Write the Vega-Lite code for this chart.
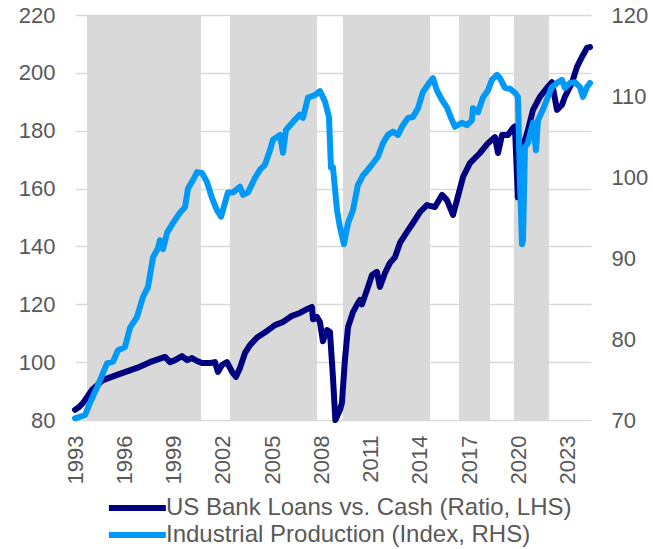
{
  "$schema": "https://vega.github.io/schema/vega-lite/v6.json",
  "width": 516,
  "height": 405,
  "autosize": "none",
  "padding": {"left": 75, "top": 15, "right": 62, "bottom": 129},
  "background": "white",
  "config": {
    "view": {"stroke": null},
    "font": "Liberation Sans",
    "axis": {"labelFont": "Liberation Sans", "labelFontSize": 22, "labelColor": "#595959", "title": null, "domain": false, "ticks": false}
  },
  "datasets": {
    "bands": [
      {"start": 1993.73, "end": 2000.67},
      {"start": 2002.43, "end": 2007.73},
      {"start": 2009.31, "end": 2014.61},
      {"start": 2016.37, "end": 2018.26},
      {"start": 2019.72, "end": 2021.85}
    ],
    "loans": [
      {"s": "US Bank Loans vs. Cash (Ratio, LHS)", "t": 1993.00, "v": 83.5},
      {"s": "US Bank Loans vs. Cash (Ratio, LHS)", "t": 1993.25, "v": 84.5},
      {"s": "US Bank Loans vs. Cash (Ratio, LHS)", "t": 1993.49, "v": 85.9},
      {"s": "US Bank Loans vs. Cash (Ratio, LHS)", "t": 1994.03, "v": 90.4},
      {"s": "US Bank Loans vs. Cash (Ratio, LHS)", "t": 1994.70, "v": 93.8},
      {"s": "US Bank Loans vs. Cash (Ratio, LHS)", "t": 1995.56, "v": 95.6},
      {"s": "US Bank Loans vs. Cash (Ratio, LHS)", "t": 1996.77, "v": 98.0},
      {"s": "US Bank Loans vs. Cash (Ratio, LHS)", "t": 1997.56, "v": 100.0},
      {"s": "US Bank Loans vs. Cash (Ratio, LHS)", "t": 1998.48, "v": 101.8},
      {"s": "US Bank Loans vs. Cash (Ratio, LHS)", "t": 1998.78, "v": 100.0},
      {"s": "US Bank Loans vs. Cash (Ratio, LHS)", "t": 1999.09, "v": 100.7},
      {"s": "US Bank Loans vs. Cash (Ratio, LHS)", "t": 1999.51, "v": 102.1},
      {"s": "US Bank Loans vs. Cash (Ratio, LHS)", "t": 1999.82, "v": 100.7},
      {"s": "US Bank Loans vs. Cash (Ratio, LHS)", "t": 2000.12, "v": 101.4},
      {"s": "US Bank Loans vs. Cash (Ratio, LHS)", "t": 2000.43, "v": 100.4},
      {"s": "US Bank Loans vs. Cash (Ratio, LHS)", "t": 2000.73, "v": 99.7},
      {"s": "US Bank Loans vs. Cash (Ratio, LHS)", "t": 2001.22, "v": 99.7},
      {"s": "US Bank Loans vs. Cash (Ratio, LHS)", "t": 2001.52, "v": 100.0},
      {"s": "US Bank Loans vs. Cash (Ratio, LHS)", "t": 2001.70, "v": 96.6},
      {"s": "US Bank Loans vs. Cash (Ratio, LHS)", "t": 2001.95, "v": 99.0},
      {"s": "US Bank Loans vs. Cash (Ratio, LHS)", "t": 2002.25, "v": 100.0},
      {"s": "US Bank Loans vs. Cash (Ratio, LHS)", "t": 2002.56, "v": 96.6},
      {"s": "US Bank Loans vs. Cash (Ratio, LHS)", "t": 2002.80, "v": 94.9},
      {"s": "US Bank Loans vs. Cash (Ratio, LHS)", "t": 2003.04, "v": 98.0},
      {"s": "US Bank Loans vs. Cash (Ratio, LHS)", "t": 2003.35, "v": 103.2},
      {"s": "US Bank Loans vs. Cash (Ratio, LHS)", "t": 2003.65, "v": 105.9},
      {"s": "US Bank Loans vs. Cash (Ratio, LHS)", "t": 2004.08, "v": 108.5},
      {"s": "US Bank Loans vs. Cash (Ratio, LHS)", "t": 2004.69, "v": 110.8},
      {"s": "US Bank Loans vs. Cash (Ratio, LHS)", "t": 2005.17, "v": 112.8},
      {"s": "US Bank Loans vs. Cash (Ratio, LHS)", "t": 2005.66, "v": 113.9},
      {"s": "US Bank Loans vs. Cash (Ratio, LHS)", "t": 2006.21, "v": 116.0},
      {"s": "US Bank Loans vs. Cash (Ratio, LHS)", "t": 2006.69, "v": 117.0},
      {"s": "US Bank Loans vs. Cash (Ratio, LHS)", "t": 2007.18, "v": 118.5},
      {"s": "US Bank Loans vs. Cash (Ratio, LHS)", "t": 2007.42, "v": 119.1},
      {"s": "US Bank Loans vs. Cash (Ratio, LHS)", "t": 2007.49, "v": 114.8},
      {"s": "US Bank Loans vs. Cash (Ratio, LHS)", "t": 2007.73, "v": 115.6},
      {"s": "US Bank Loans vs. Cash (Ratio, LHS)", "t": 2007.91, "v": 113.9},
      {"s": "US Bank Loans vs. Cash (Ratio, LHS)", "t": 2008.09, "v": 107.2},
      {"s": "US Bank Loans vs. Cash (Ratio, LHS)", "t": 2008.34, "v": 111.1},
      {"s": "US Bank Loans vs. Cash (Ratio, LHS)", "t": 2008.52, "v": 110.4},
      {"s": "US Bank Loans vs. Cash (Ratio, LHS)", "t": 2008.70, "v": 95.0},
      {"s": "US Bank Loans vs. Cash (Ratio, LHS)", "t": 2008.85, "v": 80.0},
      {"s": "US Bank Loans vs. Cash (Ratio, LHS)", "t": 2009.13, "v": 83.5},
      {"s": "US Bank Loans vs. Cash (Ratio, LHS)", "t": 2009.25, "v": 86.0},
      {"s": "US Bank Loans vs. Cash (Ratio, LHS)", "t": 2009.43, "v": 100.7},
      {"s": "US Bank Loans vs. Cash (Ratio, LHS)", "t": 2009.62, "v": 112.1},
      {"s": "US Bank Loans vs. Cash (Ratio, LHS)", "t": 2009.92, "v": 117.3},
      {"s": "US Bank Loans vs. Cash (Ratio, LHS)", "t": 2010.22, "v": 120.4},
      {"s": "US Bank Loans vs. Cash (Ratio, LHS)", "t": 2010.35, "v": 121.5},
      {"s": "US Bank Loans vs. Cash (Ratio, LHS)", "t": 2010.47, "v": 120.0},
      {"s": "US Bank Loans vs. Cash (Ratio, LHS)", "t": 2010.77, "v": 124.9},
      {"s": "US Bank Loans vs. Cash (Ratio, LHS)", "t": 2011.08, "v": 130.1},
      {"s": "US Bank Loans vs. Cash (Ratio, LHS)", "t": 2011.38, "v": 131.2},
      {"s": "US Bank Loans vs. Cash (Ratio, LHS)", "t": 2011.56, "v": 126.0},
      {"s": "US Bank Loans vs. Cash (Ratio, LHS)", "t": 2011.87, "v": 130.8},
      {"s": "US Bank Loans vs. Cash (Ratio, LHS)", "t": 2012.17, "v": 134.3},
      {"s": "US Bank Loans vs. Cash (Ratio, LHS)", "t": 2012.48, "v": 136.3},
      {"s": "US Bank Loans vs. Cash (Ratio, LHS)", "t": 2012.78, "v": 141.2},
      {"s": "US Bank Loans vs. Cash (Ratio, LHS)", "t": 2013.21, "v": 145.0},
      {"s": "US Bank Loans vs. Cash (Ratio, LHS)", "t": 2013.57, "v": 148.1},
      {"s": "US Bank Loans vs. Cash (Ratio, LHS)", "t": 2014.00, "v": 151.9},
      {"s": "US Bank Loans vs. Cash (Ratio, LHS)", "t": 2014.42, "v": 154.3},
      {"s": "US Bank Loans vs. Cash (Ratio, LHS)", "t": 2014.91, "v": 153.6},
      {"s": "US Bank Loans vs. Cash (Ratio, LHS)", "t": 2015.34, "v": 157.8},
      {"s": "US Bank Loans vs. Cash (Ratio, LHS)", "t": 2015.64, "v": 156.0},
      {"s": "US Bank Loans vs. Cash (Ratio, LHS)", "t": 2016.01, "v": 150.9},
      {"s": "US Bank Loans vs. Cash (Ratio, LHS)", "t": 2016.25, "v": 156.0},
      {"s": "US Bank Loans vs. Cash (Ratio, LHS)", "t": 2016.62, "v": 164.0},
      {"s": "US Bank Loans vs. Cash (Ratio, LHS)", "t": 2017.04, "v": 168.8},
      {"s": "US Bank Loans vs. Cash (Ratio, LHS)", "t": 2017.65, "v": 172.3},
      {"s": "US Bank Loans vs. Cash (Ratio, LHS)", "t": 2018.14, "v": 175.7},
      {"s": "US Bank Loans vs. Cash (Ratio, LHS)", "t": 2018.56, "v": 177.8},
      {"s": "US Bank Loans vs. Cash (Ratio, LHS)", "t": 2018.75, "v": 172.3},
      {"s": "US Bank Loans vs. Cash (Ratio, LHS)", "t": 2018.99, "v": 178.5},
      {"s": "US Bank Loans vs. Cash (Ratio, LHS)", "t": 2019.35, "v": 178.5},
      {"s": "US Bank Loans vs. Cash (Ratio, LHS)", "t": 2019.66, "v": 180.9},
      {"s": "US Bank Loans vs. Cash (Ratio, LHS)", "t": 2019.78, "v": 181.5},
      {"s": "US Bank Loans vs. Cash (Ratio, LHS)", "t": 2019.96, "v": 157.0},
      {"s": "US Bank Loans vs. Cash (Ratio, LHS)", "t": 2020.08, "v": 168.0},
      {"s": "US Bank Loans vs. Cash (Ratio, LHS)", "t": 2020.27, "v": 174.4},
      {"s": "US Bank Loans vs. Cash (Ratio, LHS)", "t": 2020.57, "v": 180.2},
      {"s": "US Bank Loans vs. Cash (Ratio, LHS)", "t": 2020.88, "v": 187.2},
      {"s": "US Bank Loans vs. Cash (Ratio, LHS)", "t": 2021.30, "v": 191.7},
      {"s": "US Bank Loans vs. Cash (Ratio, LHS)", "t": 2021.73, "v": 194.8},
      {"s": "US Bank Loans vs. Cash (Ratio, LHS)", "t": 2022.03, "v": 196.8},
      {"s": "US Bank Loans vs. Cash (Ratio, LHS)", "t": 2022.34, "v": 187.2},
      {"s": "US Bank Loans vs. Cash (Ratio, LHS)", "t": 2022.64, "v": 188.9},
      {"s": "US Bank Loans vs. Cash (Ratio, LHS)", "t": 2022.82, "v": 191.7},
      {"s": "US Bank Loans vs. Cash (Ratio, LHS)", "t": 2023.25, "v": 196.5},
      {"s": "US Bank Loans vs. Cash (Ratio, LHS)", "t": 2023.55, "v": 202.0},
      {"s": "US Bank Loans vs. Cash (Ratio, LHS)", "t": 2023.86, "v": 205.5},
      {"s": "US Bank Loans vs. Cash (Ratio, LHS)", "t": 2024.16, "v": 208.6},
      {"s": "US Bank Loans vs. Cash (Ratio, LHS)", "t": 2024.35, "v": 208.9}
    ],
    "ip": [
      {"s": "Industrial Production (Index, RHS)", "t": 1993.00, "v": 70.2},
      {"s": "Industrial Production (Index, RHS)", "t": 1993.61, "v": 70.6},
      {"s": "Industrial Production (Index, RHS)", "t": 1993.91, "v": 72.1},
      {"s": "Industrial Production (Index, RHS)", "t": 1994.34, "v": 74.0},
      {"s": "Industrial Production (Index, RHS)", "t": 1994.70, "v": 75.8},
      {"s": "Industrial Production (Index, RHS)", "t": 1994.95, "v": 77.0},
      {"s": "Industrial Production (Index, RHS)", "t": 1995.31, "v": 77.2},
      {"s": "Industrial Production (Index, RHS)", "t": 1995.62, "v": 78.6},
      {"s": "Industrial Production (Index, RHS)", "t": 1996.04, "v": 79.0},
      {"s": "Industrial Production (Index, RHS)", "t": 1996.35, "v": 81.4},
      {"s": "Industrial Production (Index, RHS)", "t": 1996.77, "v": 82.7},
      {"s": "Industrial Production (Index, RHS)", "t": 1997.14, "v": 85.2},
      {"s": "Industrial Production (Index, RHS)", "t": 1997.44, "v": 86.4},
      {"s": "Industrial Production (Index, RHS)", "t": 1997.75, "v": 90.1},
      {"s": "Industrial Production (Index, RHS)", "t": 1998.05, "v": 91.2},
      {"s": "Industrial Production (Index, RHS)", "t": 1998.17, "v": 92.2},
      {"s": "Industrial Production (Index, RHS)", "t": 1998.36, "v": 91.1},
      {"s": "Industrial Production (Index, RHS)", "t": 1998.60, "v": 93.1},
      {"s": "Industrial Production (Index, RHS)", "t": 1998.96, "v": 94.3},
      {"s": "Industrial Production (Index, RHS)", "t": 1999.39, "v": 95.6},
      {"s": "Industrial Production (Index, RHS)", "t": 1999.70, "v": 96.3},
      {"s": "Industrial Production (Index, RHS)", "t": 1999.88, "v": 98.6},
      {"s": "Industrial Production (Index, RHS)", "t": 2000.18, "v": 99.6},
      {"s": "Industrial Production (Index, RHS)", "t": 2000.43, "v": 100.6},
      {"s": "Industrial Production (Index, RHS)", "t": 2000.73, "v": 100.5},
      {"s": "Industrial Production (Index, RHS)", "t": 2001.03, "v": 99.4},
      {"s": "Industrial Production (Index, RHS)", "t": 2001.34, "v": 97.4},
      {"s": "Industrial Production (Index, RHS)", "t": 2001.64, "v": 95.9},
      {"s": "Industrial Production (Index, RHS)", "t": 2001.89, "v": 95.1},
      {"s": "Industrial Production (Index, RHS)", "t": 2002.13, "v": 96.8},
      {"s": "Industrial Production (Index, RHS)", "t": 2002.31, "v": 98.1},
      {"s": "Industrial Production (Index, RHS)", "t": 2002.62, "v": 98.1},
      {"s": "Industrial Production (Index, RHS)", "t": 2003.04, "v": 98.8},
      {"s": "Industrial Production (Index, RHS)", "t": 2003.23, "v": 97.8},
      {"s": "Industrial Production (Index, RHS)", "t": 2003.53, "v": 98.1},
      {"s": "Industrial Production (Index, RHS)", "t": 2003.96, "v": 99.9},
      {"s": "Industrial Production (Index, RHS)", "t": 2004.26, "v": 100.9},
      {"s": "Industrial Production (Index, RHS)", "t": 2004.56, "v": 101.5},
      {"s": "Industrial Production (Index, RHS)", "t": 2004.87, "v": 103.3},
      {"s": "Industrial Production (Index, RHS)", "t": 2005.05, "v": 104.6},
      {"s": "Industrial Production (Index, RHS)", "t": 2005.48, "v": 105.2},
      {"s": "Industrial Production (Index, RHS)", "t": 2005.66, "v": 103.0},
      {"s": "Industrial Production (Index, RHS)", "t": 2005.84, "v": 105.8},
      {"s": "Industrial Production (Index, RHS)", "t": 2006.27, "v": 106.8},
      {"s": "Industrial Production (Index, RHS)", "t": 2006.69, "v": 107.7},
      {"s": "Industrial Production (Index, RHS)", "t": 2006.88, "v": 107.3},
      {"s": "Industrial Production (Index, RHS)", "t": 2007.18, "v": 109.8},
      {"s": "Industrial Production (Index, RHS)", "t": 2007.61, "v": 110.1},
      {"s": "Industrial Production (Index, RHS)", "t": 2007.91, "v": 110.6},
      {"s": "Industrial Production (Index, RHS)", "t": 2008.22, "v": 109.3},
      {"s": "Industrial Production (Index, RHS)", "t": 2008.46, "v": 107.4},
      {"s": "Industrial Production (Index, RHS)", "t": 2008.58, "v": 101.2},
      {"s": "Industrial Production (Index, RHS)", "t": 2008.70, "v": 101.2},
      {"s": "Industrial Production (Index, RHS)", "t": 2008.95, "v": 95.9},
      {"s": "Industrial Production (Index, RHS)", "t": 2009.13, "v": 93.8},
      {"s": "Industrial Production (Index, RHS)", "t": 2009.37, "v": 91.7},
      {"s": "Industrial Production (Index, RHS)", "t": 2009.62, "v": 94.3},
      {"s": "Industrial Production (Index, RHS)", "t": 2009.92, "v": 95.9},
      {"s": "Industrial Production (Index, RHS)", "t": 2010.22, "v": 99.0},
      {"s": "Industrial Production (Index, RHS)", "t": 2010.53, "v": 100.2},
      {"s": "Industrial Production (Index, RHS)", "t": 2010.83, "v": 100.9},
      {"s": "Industrial Production (Index, RHS)", "t": 2011.14, "v": 101.7},
      {"s": "Industrial Production (Index, RHS)", "t": 2011.44, "v": 102.5},
      {"s": "Industrial Production (Index, RHS)", "t": 2011.75, "v": 104.2},
      {"s": "Industrial Production (Index, RHS)", "t": 2012.05, "v": 105.2},
      {"s": "Industrial Production (Index, RHS)", "t": 2012.35, "v": 105.6},
      {"s": "Industrial Production (Index, RHS)", "t": 2012.66, "v": 105.2},
      {"s": "Industrial Production (Index, RHS)", "t": 2012.96, "v": 106.4},
      {"s": "Industrial Production (Index, RHS)", "t": 2013.27, "v": 107.3},
      {"s": "Industrial Production (Index, RHS)", "t": 2013.57, "v": 107.4},
      {"s": "Industrial Production (Index, RHS)", "t": 2013.88, "v": 108.5},
      {"s": "Industrial Production (Index, RHS)", "t": 2014.18, "v": 110.5},
      {"s": "Industrial Production (Index, RHS)", "t": 2014.49, "v": 111.4},
      {"s": "Industrial Production (Index, RHS)", "t": 2014.79, "v": 112.2},
      {"s": "Industrial Production (Index, RHS)", "t": 2015.03, "v": 110.7},
      {"s": "Industrial Production (Index, RHS)", "t": 2015.34, "v": 109.5},
      {"s": "Industrial Production (Index, RHS)", "t": 2015.64, "v": 108.6},
      {"s": "Industrial Production (Index, RHS)", "t": 2015.95, "v": 107.0},
      {"s": "Industrial Production (Index, RHS)", "t": 2016.13, "v": 106.2},
      {"s": "Industrial Production (Index, RHS)", "t": 2016.55, "v": 106.7},
      {"s": "Industrial Production (Index, RHS)", "t": 2016.86, "v": 106.4},
      {"s": "Industrial Production (Index, RHS)", "t": 2017.16, "v": 107.0},
      {"s": "Industrial Production (Index, RHS)", "t": 2017.22, "v": 108.5},
      {"s": "Industrial Production (Index, RHS)", "t": 2017.53, "v": 108.0},
      {"s": "Industrial Production (Index, RHS)", "t": 2017.83, "v": 109.8},
      {"s": "Industrial Production (Index, RHS)", "t": 2018.14, "v": 110.7},
      {"s": "Industrial Production (Index, RHS)", "t": 2018.38, "v": 112.0},
      {"s": "Industrial Production (Index, RHS)", "t": 2018.68, "v": 112.6},
      {"s": "Industrial Production (Index, RHS)", "t": 2018.87, "v": 112.2},
      {"s": "Industrial Production (Index, RHS)", "t": 2019.17, "v": 111.0},
      {"s": "Industrial Production (Index, RHS)", "t": 2019.48, "v": 110.9},
      {"s": "Industrial Production (Index, RHS)", "t": 2019.78, "v": 110.4},
      {"s": "Industrial Production (Index, RHS)", "t": 2019.96, "v": 109.9},
      {"s": "Industrial Production (Index, RHS)", "t": 2020.08, "v": 100.0},
      {"s": "Industrial Production (Index, RHS)", "t": 2020.21, "v": 91.7},
      {"s": "Industrial Production (Index, RHS)", "t": 2020.27, "v": 92.2},
      {"s": "Industrial Production (Index, RHS)", "t": 2020.39, "v": 103.7},
      {"s": "Industrial Production (Index, RHS)", "t": 2020.57, "v": 104.2},
      {"s": "Industrial Production (Index, RHS)", "t": 2020.88, "v": 106.7},
      {"s": "Industrial Production (Index, RHS)", "t": 2021.06, "v": 103.3},
      {"s": "Industrial Production (Index, RHS)", "t": 2021.18, "v": 107.0},
      {"s": "Industrial Production (Index, RHS)", "t": 2021.48, "v": 108.3},
      {"s": "Industrial Production (Index, RHS)", "t": 2021.79, "v": 109.9},
      {"s": "Industrial Production (Index, RHS)", "t": 2022.03, "v": 111.1},
      {"s": "Industrial Production (Index, RHS)", "t": 2022.34, "v": 111.6},
      {"s": "Industrial Production (Index, RHS)", "t": 2022.64, "v": 112.0},
      {"s": "Industrial Production (Index, RHS)", "t": 2022.82, "v": 111.0},
      {"s": "Industrial Production (Index, RHS)", "t": 2023.13, "v": 111.6},
      {"s": "Industrial Production (Index, RHS)", "t": 2023.43, "v": 111.7},
      {"s": "Industrial Production (Index, RHS)", "t": 2023.74, "v": 111.1},
      {"s": "Industrial Production (Index, RHS)", "t": 2023.92, "v": 109.9},
      {"s": "Industrial Production (Index, RHS)", "t": 2024.16, "v": 111.1},
      {"s": "Industrial Production (Index, RHS)", "t": 2024.35, "v": 111.6}
    ]
  },
  "layer": [
    {
      "data": {"name": "bands"},
      "mark": {"type": "rect", "color": "#d9d9d9"},
      "encoding": {
        "x": {
          "field": "start", "type": "quantitative",
          "scale": {"domain": [1993, 2024.41], "nice": false, "zero": false},
          "axis": {"values": [1993, 1996, 1999, 2002, 2005, 2008, 2011, 2014, 2017, 2020, 2023], "format": "d", "labelAngle": -90, "grid": false, "labelPadding": 15}
        },
        "x2": {"field": "end"}
      }
    },
    {
      "data": {"name": "loans"},
      "mark": {"type": "line", "strokeWidth": 6, "strokeJoin": "round", "strokeCap": "round"},
      "encoding": {
        "x": {"field": "t", "type": "quantitative"},
        "y": {
          "field": "v", "type": "quantitative",
          "scale": {"domain": [80, 220], "nice": false, "zero": false},
          "axis": {"orient": "left", "values": [80, 100, 120, 140, 160, 180, 200, 220], "grid": true, "gridColor": "#d9d9d9", "gridWidth": 1.5, "labelPadding": 20}
        },
        "color": {
          "field": "s", "type": "nominal",
          "scale": {"domain": ["US Bank Loans vs. Cash (Ratio, LHS)", "Industrial Production (Index, RHS)"], "range": ["#000080", "#0099f7"]},
          "legend": {"title": null, "orient": "none", "legendX": 29, "legendY": 481, "direction": "vertical", "symbolType": "M-1,0H7", "symbolStrokeWidth": 6, "symbolSize": 203, "labelFontSize": 24, "labelFont": "Liberation Sans", "labelColor": "#595959", "labelOffset": 38, "labelLimit": 0, "rowPadding": 3, "padding": 0}
        }
      }
    },
    {
      "data": {"name": "ip"},
      "mark": {"type": "line", "strokeWidth": 6, "strokeJoin": "round", "strokeCap": "round"},
      "encoding": {
        "x": {"field": "t", "type": "quantitative"},
        "y": {
          "field": "v", "type": "quantitative",
          "scale": {"domain": [70, 120], "nice": false, "zero": false},
          "axis": {"orient": "right", "values": [70, 80, 90, 100, 110, 120], "grid": false, "labelPadding": 20}
        },
        "color": {"field": "s", "type": "nominal"}
      }
    }
  ],
  "resolve": {"scale": {"y": "independent"}}
}
